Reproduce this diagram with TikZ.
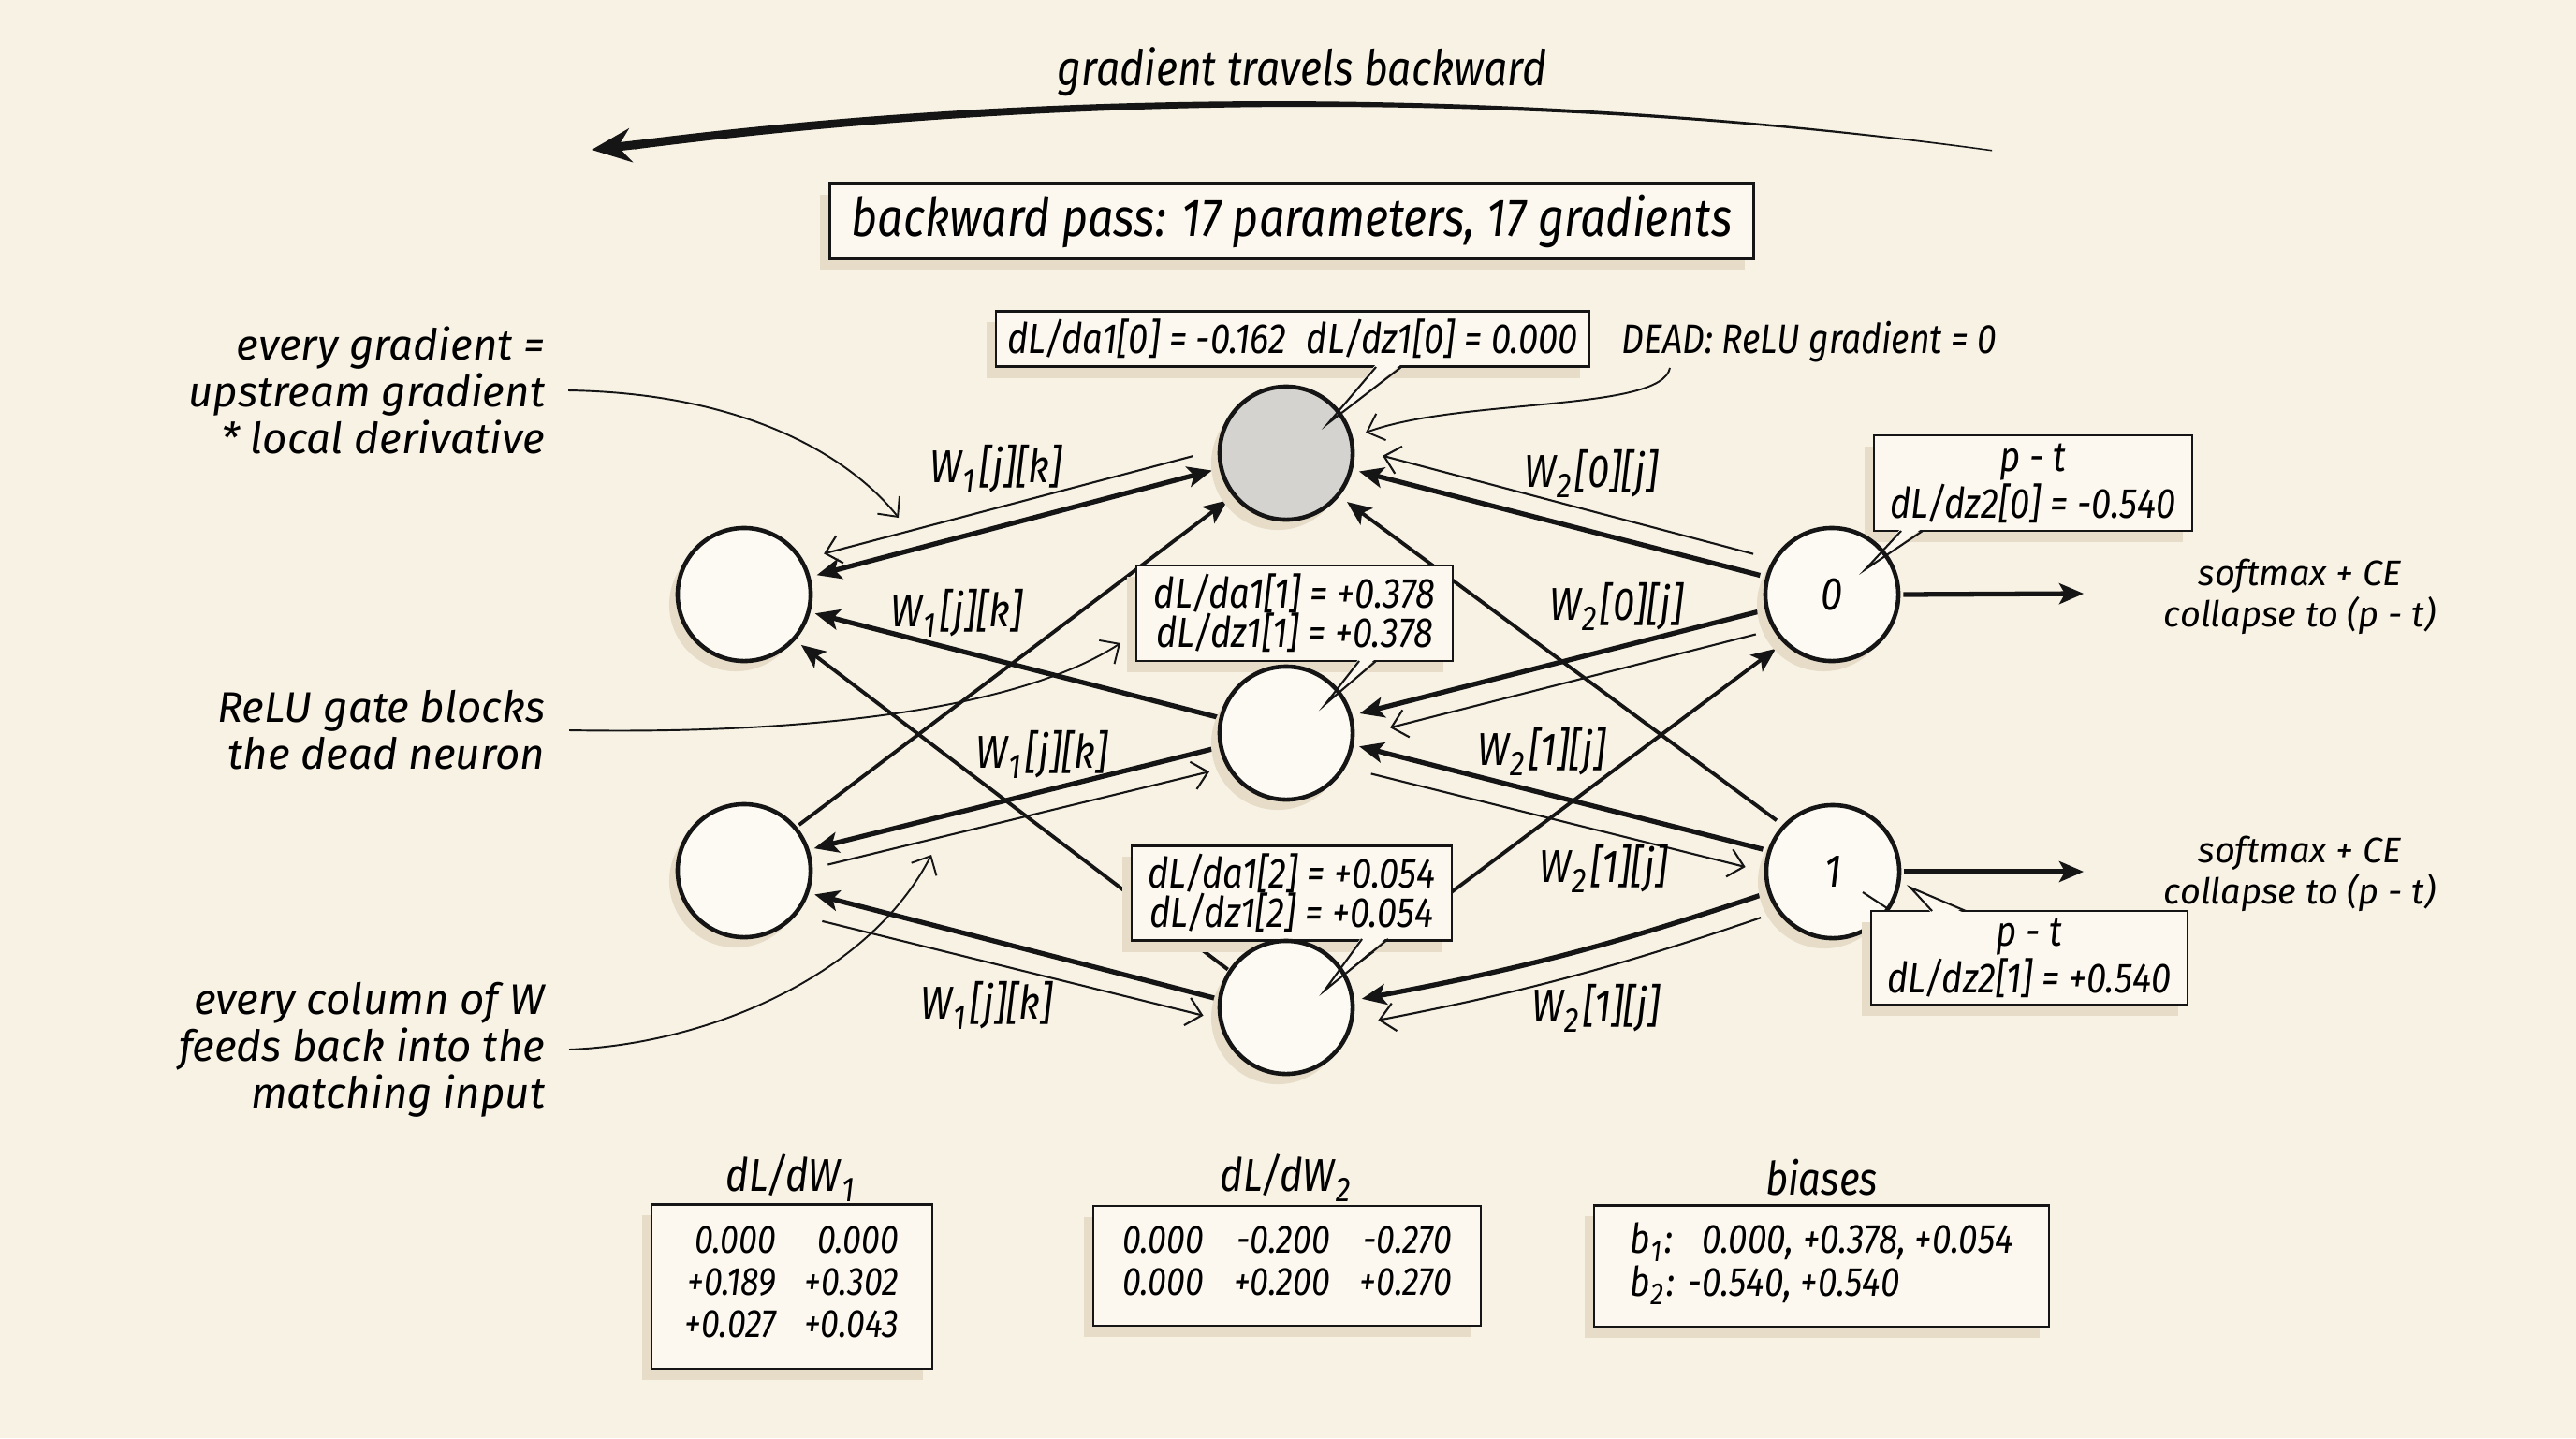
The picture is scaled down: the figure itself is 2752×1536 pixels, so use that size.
\documentclass[tikz,border=0pt]{standalone}
\usepackage{fontspec}
\usepackage{graphicx}
\setmainfont{Fira Sans}
\newfontfamily\hand{Fira Sans}[FakeStretch=0.85]
\newfontfamily\wide{Fira Sans}
\usetikzlibrary{arrows.meta,shadows,calc}
\pgfdeclarelayer{back}
\pgfdeclarelayer{edgesL}
\pgfdeclarelayer{boxesL}
\pgfdeclarelayer{front}
\pgfsetlayers{back,edgesL,boxesL,main,front}
\definecolor{bgc}{HTML}{F8F2E5}
\definecolor{ink}{HTML}{151515}
\definecolor{boxfill}{HTML}{FCF8EF}
\definecolor{nodefill}{HTML}{FDFAF3}
\definecolor{deadfill}{HTML}{D5D3CF}
\definecolor{shadowc}{HTML}{E7DCC8}
\newcommand\setfs[2]{\fontsize{#1}{#2}\selectfont}
\newcommand\lsub[1]{\kern0.02em\raisebox{-0.4ex}{\scalebox{0.75}{#1}}\kern0.08em}
\begin{document}
\begin{tikzpicture}[x=0.01cm,y=-0.01cm,
  neuron/.style={circle, draw=ink, line width=1.3pt, fill=nodefill, minimum size=1.42cm, inner sep=0pt,
    general shadow={shadow xshift=-0.09cm, shadow yshift=-0.11cm, fill=shadowc}},
  deadneuron/.style={neuron, fill=deadfill},
  gbox/.style={draw=ink, line width=0.6pt, fill=boxfill, inner sep=0pt, align=center,
    general shadow={shadow xshift=-0.1cm, shadow yshift=-0.12cm, fill=shadowc},
    font=\hand\itshape\setfs{12.8}{12}},
  titlebox/.style={gbox, line width=0.9pt, font=\hand\itshape\setfs{16.2}{16.2}},
  tabbox/.style={gbox, font=\hand\itshape\setfs{12}{12.8}},
  thickE/.style={draw=ink, line width=1.5pt, -{Stealth[length=0.26cm,width=0.22cm,inset=0.06cm]}},
  thickBoth/.style={draw=ink, line width=1.5pt, {Stealth[length=0.26cm,width=0.22cm,inset=0.06cm]}-{Stealth[length=0.26cm,width=0.22cm,inset=0.06cm]}},
  midE/.style={thickE, line width=1.1pt},
  thinE/.style={draw=ink, line width=0.6pt, -{Straight Barb[length=0.16cm,width=0.3cm]}},
  annarrow/.style={draw=ink, line width=0.55pt, -{Straight Barb[length=0.16cm,width=0.3cm]}},
  wlabel/.style={font=\hand\itshape\setfs{14}{14}, inner sep=0pt},
  txt/.style={font=\hand\itshape\setfs{12.5}{12.5}, inner sep=0pt},
  softtxt/.style={font=\wide\itshape\setfs{10.8}{11.4}, align=center, inner sep=0pt},
  ann/.style={font=\wide\itshape\setfs{13}{14.2}, align=right, inner sep=0pt, anchor=east},
  ttl/.style={font=\hand\itshape\setfs{14}{14}, inner sep=0pt}
]
\begin{pgfonlayer}{back}
\fill[bgc] (0,0) rectangle (2752,1536);
\end{pgfonlayer}
\useasboundingbox (0,0) rectangle (2752,1536);

% top arrow
\node[ttl, font=\hand\itshape\setfs{14.9}{14.9}] (gtb) at (1391,77) {gradient travels backward};
\coordinate (arrR) at (2128,160);
\coordinate (arrL) at (632,160);
\coordinate (arrB) at (682,154.3);
\fill[ink] (arrR) .. controls (1650,94) and (1143,91) .. (676,150.5) -- (678,159.5) .. controls (1143,100) and (1650,97) .. (2128,161.5) -- cycle;
\draw[ink, line width=2.6pt, -{Stealth[length=0.42cm,width=0.36cm]}] (arrB) -- (arrL);

% title
\node[titlebox, minimum width=9.87cm, minimum height=0.8cm] (title) at (1380,236) {backward pass: 17 parameters, 17 gradients};

% neurons
\node[neuron] (i0) at (795,635) {};
\node[neuron] (i1) at (795,930) {};
\node[deadneuron] (h0) at (1374,484) {};
\node[neuron] (h1) at (1374,783) {};
\node[neuron] (h2) at (1374,1076) {};
\node[neuron, font=\hand\itshape\setfs{14}{14}] (o0) at (1957,635) {0};
\node[neuron, font=\hand\itshape\setfs{14}{14}] (o1) at (1958,931) {1};

% edges
\begin{pgfonlayer}{edgesL}
\draw[thinE, shorten <=0.27cm, shorten >=0.23cm] (h0.177) -- (i0.31.5);
\draw[thickBoth, shorten <=0.07cm, shorten >=0.08cm] (i0.15) -- (h0.193);
\draw[midE, shorten <=0.03cm, shorten >=0.07cm] (i1.40) -- (h0.219);
\draw[thickE, shorten <=0.02cm, shorten >=0.05cm] (h1.167) -- (i0.345);
\draw[midE, shorten <=0.01cm, shorten >=0.08cm] (h2.147) -- (i0.318);
\draw[thickE, shorten <=0.03cm, shorten >=0.05cm] (h1.192) -- (i1.18);
\draw[thinE, shorten <=0.165cm, shorten >=0.19cm] (i1.2.5) -- (h1.210);
\draw[thickE, shorten <=0.01cm, shorten >=0.06cm] (h2.173) -- (i1.341);
\draw[thinE, shorten <=0.28cm, shorten >=0.167cm] (i1.320.4) -- (h2.190.6);
\draw[thinE, shorten <=0.218cm, shorten >=0.31cm] (o0.149.1) -- (h0.4);
\draw[thickE, shorten <=0.06cm, shorten >=0.07cm] (o0.165) -- (h0.346);
\draw[midE, shorten <=0.08cm, shorten >=0.10cm] (o1.137) -- (h0.321);
\draw[thickE, shorten <=0.05cm, shorten >=0.08cm] (o0.193) -- (h1.15);
\draw[thinE, shorten <=0.19cm, shorten >=0.39cm] (o0.211.7) -- (h1.357.1);
\draw[midE, shorten <=0.06cm, shorten >=0.10cm] (h2.31) -- (o0.225);
\draw[thickE, shorten <=0.05cm, shorten >=0.06cm] (o1.162) -- (h1.350);
\draw[thinE, shorten <=0.28cm, shorten >=0.206cm] (h1.330.4) -- (o1.180.8);
\draw[thickE, shorten <=0.08cm, shorten >=0.08cm] (o1.198) to[bend left=4] (h2.6);
\draw[thinE, shorten <=0.186cm, shorten >=0.28cm] (o1.216.6) to[bend left=4] (h2.345.1);
\end{pgfonlayer}

% edge labels
\node[wlabel] (lw1a) at (1064,501) {W\lsub{1}[j][k]};
\node[wlabel] (lw1b) at (1022,655) {W\lsub{1}[j][k]};
\node[wlabel] (lw1c) at (1113,806) {W\lsub{1}[j][k]};
\node[wlabel] (lw1d) at (1054,1074) {W\lsub{1}[j][k]};
\node[wlabel] (lw2a) at (1700,506) {W\lsub{2}[0][j]};
\node[wlabel] (lw2b) at (1727,648) {W\lsub{2}[0][j]};
\node[wlabel] (lw2c) at (1647,803) {W\lsub{2}[1][j]};
\node[wlabel] (lw2d) at (1713,928) {W\lsub{2}[1][j]};
\node[wlabel] (lw2e) at (1705,1077) {W\lsub{2}[1][j]};

% boxes behind neurons
\begin{pgfonlayer}{boxesL}
\node[gbox, minimum width=6.33cm, minimum height=0.59cm] (bh0) at (1381,362) {dL/da1[0] = -0.162\hspace{0.22cm}dL/dz1[0] = 0.000};
\node[gbox, minimum width=3.38cm, minimum height=1.02cm] (bh1) at (1383,655) {dL/da1[1] = +0.378\\dL/dz1[1] = +0.378};
\node[gbox, minimum width=3.42cm, minimum height=1.01cm] (bh2) at (1380,954) {dL/da1[2] = +0.054\\dL/dz1[2] = +0.054};
\node[gbox, minimum width=3.40cm, minimum height=1.02cm] (bo0) at (2172,516) {p - t\\dL/dz2[0] = -0.540};
\fill[boxfill] (1470,389) -- (1419,452) -- (1497,389) -- cycle;
\fill[boxfill] (1452,703) -- (1416,752) -- (1470,703) -- cycle;
\fill[boxfill] (1455,1000) -- (1415,1058) -- (1483,1000) -- cycle;
\fill[boxfill] (2031,564) -- (1993,608) -- (2054,564) -- cycle;
\end{pgfonlayer}

\begin{pgfonlayer}{front}
\draw[ink, line width=0.6pt] (1470,392) -- (1419,452) -- (1497,392);
\draw[ink, line width=0.6pt] (1452,706) -- (1416,752) -- (1470,706);
\draw[ink, line width=0.6pt] (1455,1003) -- (1415,1058) -- (1483,1003);
\draw[ink, line width=0.6pt] (2031,567) -- (1993,608) -- (2054,567);
\node[gbox, minimum width=3.37cm, minimum height=1.00cm] (bo1) at (2168,1023) {p - t\\dL/dz2[1] = +0.540};
\fill[boxfill] (2064,976) -- (2041,948) -- (2100,976) -- cycle;
\draw[ink, line width=0.6pt] (2064,973) -- (2041,948) -- (2100,973);
\draw[ink, line width=0.6pt] (1990,953) -- (2016,970);
\end{pgfonlayer}

% DEAD annotation
\node[txt] (dead) at (1933,365) {DEAD: ReLU gradient = 0};
\coordinate (deadstart) at (1784,393);
\coordinate (deadend) at (1459,462);
\draw[annarrow] (deadstart) .. controls (1775,440) and (1560,425) .. (deadend);

% outputs
\coordinate (o0out) at (2226,634);
\coordinate (o1out) at (2226,931);
\draw[thickE, shorten <=0.03cm] (o0.0) -- (o0out);
\draw[thickE, shorten <=0.03cm] (o1.0) -- (o1out);
\node[softtxt] (sm0) at (2457,637) {softmax + CE\\collapse to (p - t)};
\node[softtxt] (sm1) at (2457,933) {softmax + CE\\collapse to (p - t)};

% left annotations
\node[ann] (ann1) at (583,417) {every gradient =\\upstream gradient\\* local derivative};
\node[ann] (ann2) at (583,780) {ReLU gate blocks\\the dead neuron};
\node[ann] (ann3) at (583,1121) {every column of W\\feeds back into the\\matching input};
\coordinate (a1end) at (960,553);
\coordinate (a2end) at (1197,687);
\coordinate (a3end) at (995,913);
\draw[annarrow] ([xshift=0.24cm]ann1.east) .. controls (800,420) and (910,490) .. (a1end);
\draw[annarrow] ([xshift=0.25cm]ann2.east) .. controls (900,785) and (1100,750) .. (a2end);
\draw[annarrow] ([xshift=0.25cm]ann3.east) .. controls (760,1115) and (930,1040) .. (a3end);

% bottom tables
\node[ttl] (t1) at (846,1258) {dL/dW\lsub{1}};
\node[ttl] (t2) at (1375,1258) {dL/dW\lsub{2}};
\node[ttl] (t3) at (1946,1258) {biases};
\node[tabbox, minimum width=2.99cm, minimum height=1.75cm] (tab1) at (846,1374)
  {\begin{tabular}{@{}r@{\hspace{0.3cm}}r@{}}0.000 & 0.000\\ +0.189 & +0.302\\ +0.027 & +0.043\end{tabular}};
\node[tabbox, minimum width=4.14cm, minimum height=1.28cm] (tab2) at (1375,1352)
  {\begin{tabular}{@{}r@{\hspace{0.32cm}}r@{\hspace{0.32cm}}r@{}}0.000 & -0.200 & -0.270\\ 0.000 & +0.200 & +0.270\end{tabular}};
\node[tabbox, font=\hand\itshape\setfs{12.4}{12.8}, minimum width=4.86cm, minimum height=1.29cm] (tab3) at (1946,1352)
  {\begin{tabular}{@{}l@{\hspace{0.14cm}}l@{}}b\lsub{1}: & \phantom{-}0.000, +0.378, +0.054\\ b\lsub{2}: & -0.540, +0.540\end{tabular}};
\end{tikzpicture}
\end{document}
